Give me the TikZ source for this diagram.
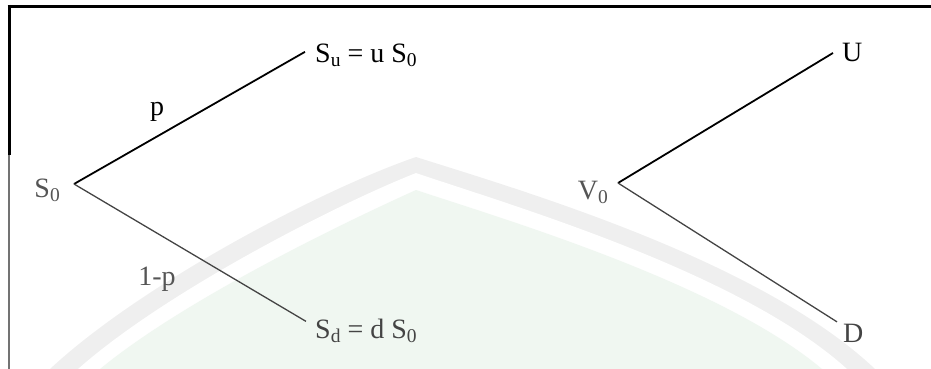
\documentclass[tikz,border=0pt]{standalone}
\usepackage{fontspec}
\setmainfont{Liberation Serif}
\definecolor{wmgray}{HTML}{EFEFEF}
\definecolor{wmgreen}{HTML}{F0F7F1}
\definecolor{ink}{HTML}{444444}
\definecolor{inklt}{HTML}{555555}
\newcommand\lsub[1]{\raisebox{-4pt}{\fontsize{19.5}{20}\selectfont #1}}
\begin{document}
\begin{tikzpicture}[x=1pt,y=-1pt,
  lbl/.style={inner sep=0pt, font=\fontsize{28}{30}\selectfont, text=ink},
  br/.style={line width=1.3pt, draw=ink},
  brup/.style={line width=1.8pt, draw=black}]
\useasboundingbox (0,0) rectangle (931,369);
% faint watermark
\fill[wmgray] (50,369) .. controls (140,285) and (320,190) .. (416,157) .. controls (520,190) and (760,260) .. (875,369) -- cycle;
\fill[white] (78,369) .. controls (165,292) and (335,205) .. (416,173) .. controls (510,205) and (740,272) .. (847,369) -- cycle;
\fill[wmgreen] (100,369) .. controls (185,299) and (345,222) .. (416,190) .. controls (500,218) and (720,283) .. (822,369) -- cycle;
% frame
\draw[line width=3pt] (7.5,6.5) -- (931,6.5);
\draw[line width=3pt] (9,5) -- (9,155);
\draw[line width=2pt, black!55] (9,155) -- (9,369);
% left tree
\coordinate (a) at (74,184);
\node[lbl, anchor=base east, text=inklt] (S0) at (60,197) {S\lsub{0}};
\node[lbl, anchor=base west, text=black] (Su) at (315,63) {S\lsub{u} = u S\lsub{0}};
\node[lbl, anchor=base west] (Sd) at (315,338) {S\lsub{d} = d S\lsub{0}};
\draw[brup] (a) -- ([xshift=-10pt,yshift=4pt]Su.west);
\draw[br] (a) -- ([xshift=-9pt,yshift=9pt]Sd.west);
\node[lbl, text=black] (p) at (157,112) {p};
\node[lbl, text=inklt] (q) at (157,279) {1-p};
% right tree
\coordinate (b) at (618,183);
\node[lbl, anchor=base east, text=inklt] (V0) at (608,199) {V\lsub{0}};
\node[lbl, anchor=base west, text=black] (U) at (842,62) {U};
\node[lbl, anchor=base west] (D) at (843,342) {D};
\draw[brup] (b) -- ([xshift=-9pt]U.west);
\draw[br] (b) -- ([xshift=-6pt,yshift=11pt]D.west);
\end{tikzpicture}
\end{document}
